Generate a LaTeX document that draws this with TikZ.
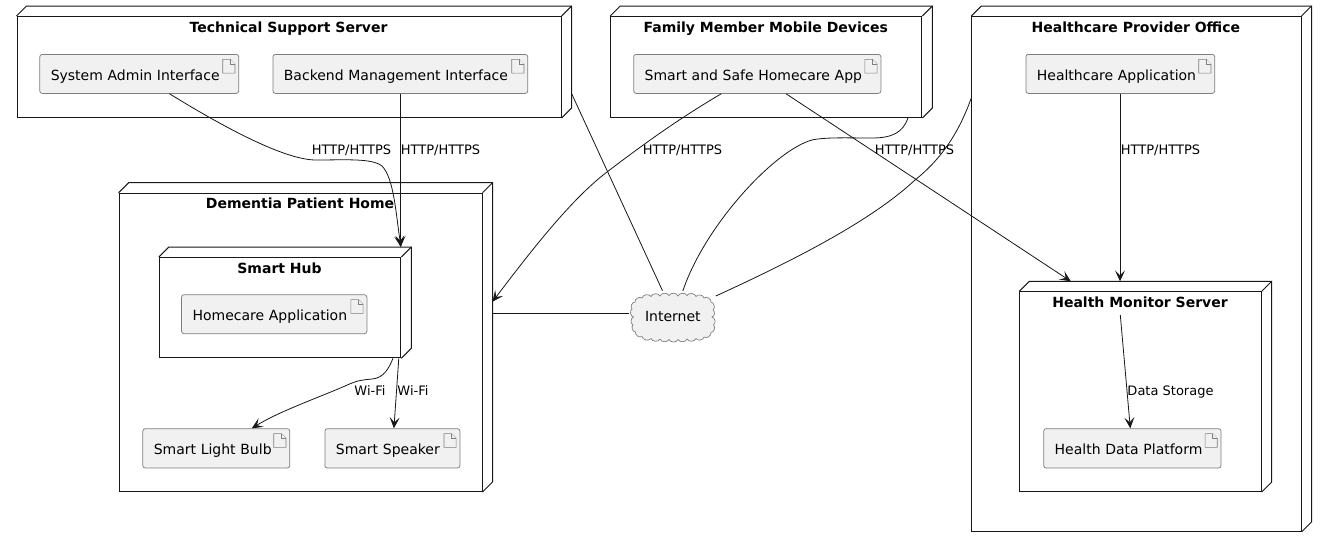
\documentclass[tikz,border=0pt]{standalone}
\usepackage{fontspec}
\setmainfont{DejaVu Sans}
\usetikzlibrary{arrows.meta,calc}
\definecolor{artfill}{HTML}{F1F1F1}
\definecolor{artline}{HTML}{7F7F7F}
\definecolor{ink}{HTML}{181818}
\tikzset{
  x=1pt,y=-1pt,
  frontbox/.style={draw=ink,line width=1pt,fill=white,anchor=north west,inner sep=0pt},
  sideline/.style={draw=ink,line width=1pt,line join=miter},
  titletext/.style={font=\fontsize{14}{16}\selectfont\bfseries,text=black,inner sep=0pt,anchor=base},
  artbox/.style={draw=artline,line width=0.75pt,fill=artfill,rounded corners=2.5pt,anchor=north west,inner ysep=0pt,inner xsep=11pt,align=left,font=\fontsize{14}{16}\selectfont,text=black,text height=16pt,text depth=3pt},
  foldicon/.style={draw=artline,line width=0.6pt,fill=artfill,line join=miter},
  conn/.style={draw=ink,line width=0.8pt},
  arrowconn/.style={conn,-{Stealth[length=11pt,width=10pt,inset=5pt]}},
  linklabel/.style={font=\fontsize{13}{15}\selectfont,text=black,inner sep=0pt,anchor=base},
  cloudline/.style={draw=artline,line width=0.7pt,fill=artfill,bend left=70},
  cloudnode/.style={inner sep=0pt,minimum width=88pt,minimum height=50pt,font=\fontsize{14}{16}\selectfont,text=black}
}
\newcommand{\depnode}[6]{% name x1 y1 x2 y2 title
  \pgfmathsetmacro{\wdv}{#4-#2}\pgfmathsetmacro{\htv}{#5-#3}
  \pgfmathsetmacro{\midv}{(#2+#4)/2}\pgfmathsetmacro{\tity}{#3+16}
  \fill[white] (#2,#3) -- ++(10,-10) -- (#4+10,#3-10) -- (#4+10,#5-10) -- (#4,#5) -- cycle;
  \node[frontbox,minimum width=\wdv pt,minimum height=\htv pt] (#1) at (#2,#3) {};
  \draw[sideline] (#1.north west) -- ++(10,-10) -- ($(#1.north east)+(10,-10)$) -- ($(#1.south east)+(10,-10)$) -- (#1.south east);
  \draw[sideline] (#1.north east) -- ++(10,-10);
  \node[titletext] (#1-title) at (\midv,\tity) {#6};
}
\newcommand{\artnode}[6]{% name x1 y1 x2 y2 text
  \pgfmathsetmacro{\wdv}{#4-#2}\pgfmathsetmacro{\htv}{#5-#3}\pgfmathsetmacro{\twv}{#4-#2-22}
  \node[artbox,minimum width=\wdv pt,minimum height=\htv pt,text width=\twv pt] (#1) at (#2,#3) {#6};
  \draw[foldicon] ($(#1.north east)+(-16.4,5.3)$) -- ++(7.6,0) -- ++(4.6,4.6) -- ++(0,9.2) -- ++(-12.2,0) -- cycle;
  \draw[foldicon] ($(#1.north east)+(-8.8,5.3)$) -- ++(0,4.6) -- ++(4.6,0);
}
\begin{document}
\begin{tikzpicture}
\useasboundingbox (0,0) rectangle (1326,547);
\fill[white] (0,0) rectangle (1326,547);

\depnode{tech}{16.5}{16}{560.6}{117}{Technical Support Server}
\artnode{admin}{39.4}{54}{238.4}{93}{System Admin Interface}
\artnode{backend}{272.5}{54}{527.4}{93}{Backend Management Interface}

\depnode{family}{610.2}{16}{921.3}{117}{Family Member Mobile Devices}
\artnode{safeapp}{633.3}{54}{880.5}{93}{Smart and Safe Homecare App}

\depnode{office}{971.3}{16}{1300.5}{531}{Healthcare Provider Office}
\artnode{careapp}{1025.5}{54}{1214.4}{93}{Healthcare Application}

\depnode{monitor}{1019.3}{291.3}{1260.7}{491}{Health Monitor Server}
\artnode{platform}{1043.3}{428.3}{1220.7}{467.6}{Health Data Platform}

\depnode{home}{118.6}{192.7}{481.5}{491}{Dementia Patient Home}
\depnode{hub}{158.8}{257}{400.3}{357.3}{Smart Hub}
\artnode{homecare}{181.2}{294.3}{366.5}{333.3}{Homecare Application}
\artnode{bulb}{142.4}{428.3}{289.4}{467.6}{Smart Light Bulb}
\artnode{speaker}{324.5}{428.3}{459.6}{467.6}{Smart Speaker}

\draw[cloudline] (635,302) to (642,298) to (651,296.5) to (660,296) to (669,295.5) to (678,296) to (687,295.5) to (696,296.5) to (704,298) to (711,302) to (713,310) to (712,317) to (713.5,325) to (711,332.5) to (704,337) to (696,338.5) to (687,339) to (678,339.5) to (669,339.5) to (660,339) to (651,338.5) to (642,336.5) to (635.5,332) to (633,325) to (633.5,317) to (632,309) to (635,302) -- cycle;
\node[cloudnode] (net) at (672.8,317.5) {\raisebox{3pt}{Internet}};

% arrows
\draw[arrowconn] ($(admin.south west)+(130.1,0)$) .. controls (225,128) and (285,160) .. (316,160) .. controls (345,160) and (372,158) .. (382,166) .. controls (394,178) and (396,215) .. ($(hub.north west)+(242.2,-10)$);
\draw[arrowconn] ($(backend.south west)+(128,0)$) -- ($(hub.north west)+(241.7,-10)$);
\draw[arrowconn] ($(safeapp.south west)+(88,0)$) .. controls (680,118) and (645,143) .. (607,172) .. controls (570,200) and (528,255) .. ($(home.north east)+(10,109)$);
\draw[arrowconn] ($(safeapp.south west)+(152.7,0)$) -- ($(monitor.north west)+(51.5,-10)$);
\draw[arrowconn] ($(careapp.south west)+(94.5,0)$) -- ($(monitor.north west)+(100.7,-10)$);
\draw[arrowconn] ($(monitor.north west)+(101,23.7)$) -- ($(platform.north west)+(87,0)$);
\draw[arrowconn] ($(hub.south west)+(234.2,0)$) .. controls (389,368) and (384,378) .. (372,379) .. controls (362,380) and (358,380) .. (345,386) .. controls (320,397) and (280,411) .. ($(bulb.north west)+(109.4,0)$);
\draw[arrowconn] ($(hub.south west)+(240,0)$) -- ($(speaker.north west)+(69.4,0)$);

% plain links
\draw[conn] ($(tech.north east)+(10,77.6)$) -- ($(net.center)+(-10.3,-26.8)$);
\draw[conn] ($(family.south east)+(-14.3,0)$) .. controls (903,132) and (893,138) .. (872,138) .. controls (850,138) and (825,137) .. (812,140) .. controls (775,150) and (705,225) .. ($(net.center)+(10,-26.5)$);
\draw[conn] ($(office.north west)+(0,82)$) .. controls (958,135) and (940,160) .. (915,180) .. controls (870,222) and (790,262) .. ($(net.center)+(43,-21.5)$);
\draw[conn] ($(home.north east)+(10,120.6)$) -- ($(net.west)+(0,-4.2)$);

% labels
\node[linklabel] (l1) at (351.5,154) {HTTP/HTTPS};
\node[linklabel] (l2) at (440.5,154) {HTTP/HTTPS};
\node[linklabel] (l3) at (682.5,154) {HTTP/HTTPS};
\node[linklabel] (l4) at (914.5,154) {HTTP/HTTPS};
\node[linklabel] (l5) at (1160.5,154) {HTTP/HTTPS};
\node[linklabel] (l6) at (370,395) {Wi-Fi};
\node[linklabel] (l7) at (413,395) {Wi-Fi};
\node[linklabel] (l8) at (1170.5,395) {Data Storage};
\end{tikzpicture}
\end{document}
